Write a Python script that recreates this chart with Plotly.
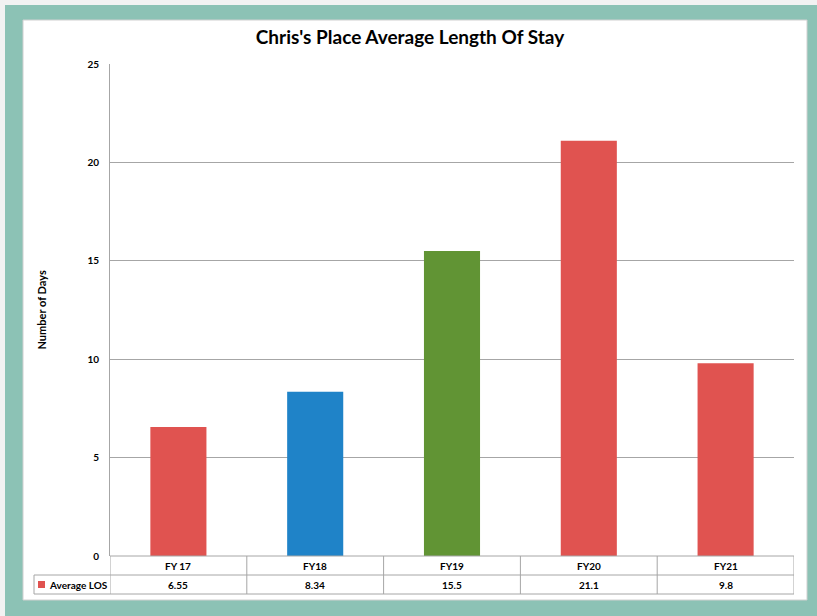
import plotly.graph_objects as go

categories = ["FY 17", "FY18", "FY19", "FY20", "FY21"]
values = [6.55, 8.34, 15.5, 21.1, 9.8]
value_labels = ["6.55", "8.34", "15.5", "21.1", "9.8"]
series_name = "Average LOS"
y_ticks = [0, 5, 10, 15, 20, 25]
bar_colors = ["#E05350", "#1F83C8", "#619434", "#E05350", "#E05350"]

FONT = "Lato, Liberation Sans, sans-serif"
W, H = 817, 616
L, R, T, B = 110, 23, 64, 60
pw, ph = W - L - R, H - T - B

def px_x(x):
    return (x - L) / pw

def px_y(y):
    return (H - B - y) / ph

GRID = "#A6A6A6"
fig = go.Figure()
fig.add_trace(go.Bar(x=categories, y=values, marker=dict(color=bar_colors, line=dict(width=0)),
                     width=0.41, name=series_name, showlegend=False))

shapes = []
shapes.append(dict(type="rect", xref="paper", yref="paper", x0=px_x(5), x1=px_x(W + 2),
                   y0=px_y(H + 2), y1=px_y(5), fillcolor="#8CC2B5", line=dict(width=0), layer="below"))
shapes.append(dict(type="rect", xref="paper", yref="paper", x0=px_x(23), x1=px_x(807),
                   y0=px_y(600), y1=px_y(20), fillcolor="white", line=dict(color="#D0D0D0", width=1), layer="below"))

row_h = 19 / ph
for k in range(3):
    shapes.append(dict(type="line", xref="paper", yref="paper", x0=0, x1=1, y0=-k * row_h, y1=-k * row_h,
                       line=dict(color=GRID, width=1)))
shapes.append(dict(type="line", xref="paper", yref="paper", x0=px_x(34), x1=0, y0=-row_h, y1=-row_h,
                   line=dict(color=GRID, width=1)))
shapes.append(dict(type="line", xref="paper", yref="paper", x0=px_x(34), x1=0, y0=-2 * row_h, y1=-2 * row_h,
                   line=dict(color=GRID, width=1)))
shapes.append(dict(type="line", xref="paper", yref="paper", x0=px_x(34), x1=px_x(34), y0=-row_h, y1=-2 * row_h,
                   line=dict(color=GRID, width=1)))
for i in range(len(categories) + 1):
    shapes.append(dict(type="line", xref="x", yref="paper", x0=i - 0.5, x1=i - 0.5, y0=0, y1=-2 * row_h,
                       line=dict(color=GRID, width=1)))
shapes.append(dict(type="rect", xref="paper", yref="paper", x0=px_x(38), x1=px_x(45),
                   y0=px_y(588), y1=px_y(581), fillcolor=bar_colors[0], line=dict(width=0)))

tfont = dict(size=10, color="#000", family=FONT)
annotations = []
for i, (c, v) in enumerate(zip(categories, value_labels)):
    annotations.append(dict(x=c, y=-0.5 * row_h, xref="x", yref="paper", text="<b>%s</b>" % c, showarrow=False,
                            font=tfont, yanchor="middle"))
    annotations.append(dict(x=c, y=-1.5 * row_h, xref="x", yref="paper", text="<b>%s</b>" % v, showarrow=False,
                            font=tfont, yanchor="middle"))
annotations.append(dict(x=px_x(47), y=-1.5 * row_h, xref="paper", yref="paper", text="<b>%s</b>" % series_name,
                        showarrow=False, xanchor="left", yanchor="middle", font=tfont))
annotations.append(dict(x=px_x(32), y=0.5, xref="paper", yref="paper", text="<b>Number of Days</b>",
                        textangle=-90, showarrow=False, font=dict(size=11, color="#000", family=FONT)))

fig.update_layout(
    width=W, height=H,
    margin=dict(l=L, r=R, t=T, b=B, autoexpand=False),
    paper_bgcolor="#F2F2F2", plot_bgcolor="white",
    title=dict(text="<b>Chris's Place Average Length Of Stay</b>", x=410 / W, xref="container",
               xanchor="center", y=1 - 37 / H, yref="container", yanchor="middle",
               font=dict(size=19, color="#000", family=FONT)),
    shapes=shapes, annotations=annotations,
    xaxis=dict(showticklabels=False, showgrid=False, zeroline=False, showline=False, ticks="",
               range=[-0.5, len(categories) - 0.5]),
    yaxis=dict(range=[0, 25], tickvals=y_ticks, ticktext=["<b>%d</b>" % t for t in y_ticks],
               showgrid=True, gridcolor=GRID, gridwidth=1,
               zeroline=False, showline=True, linecolor=GRID, linewidth=1, ticks="",
               ticklabelstandoff=8, tickfont=tfont),
)
fig.write_html("out.html", config={"displayModeBar": False},
               post_script="document.body.style.margin='0';document.body.style.padding='0';")
